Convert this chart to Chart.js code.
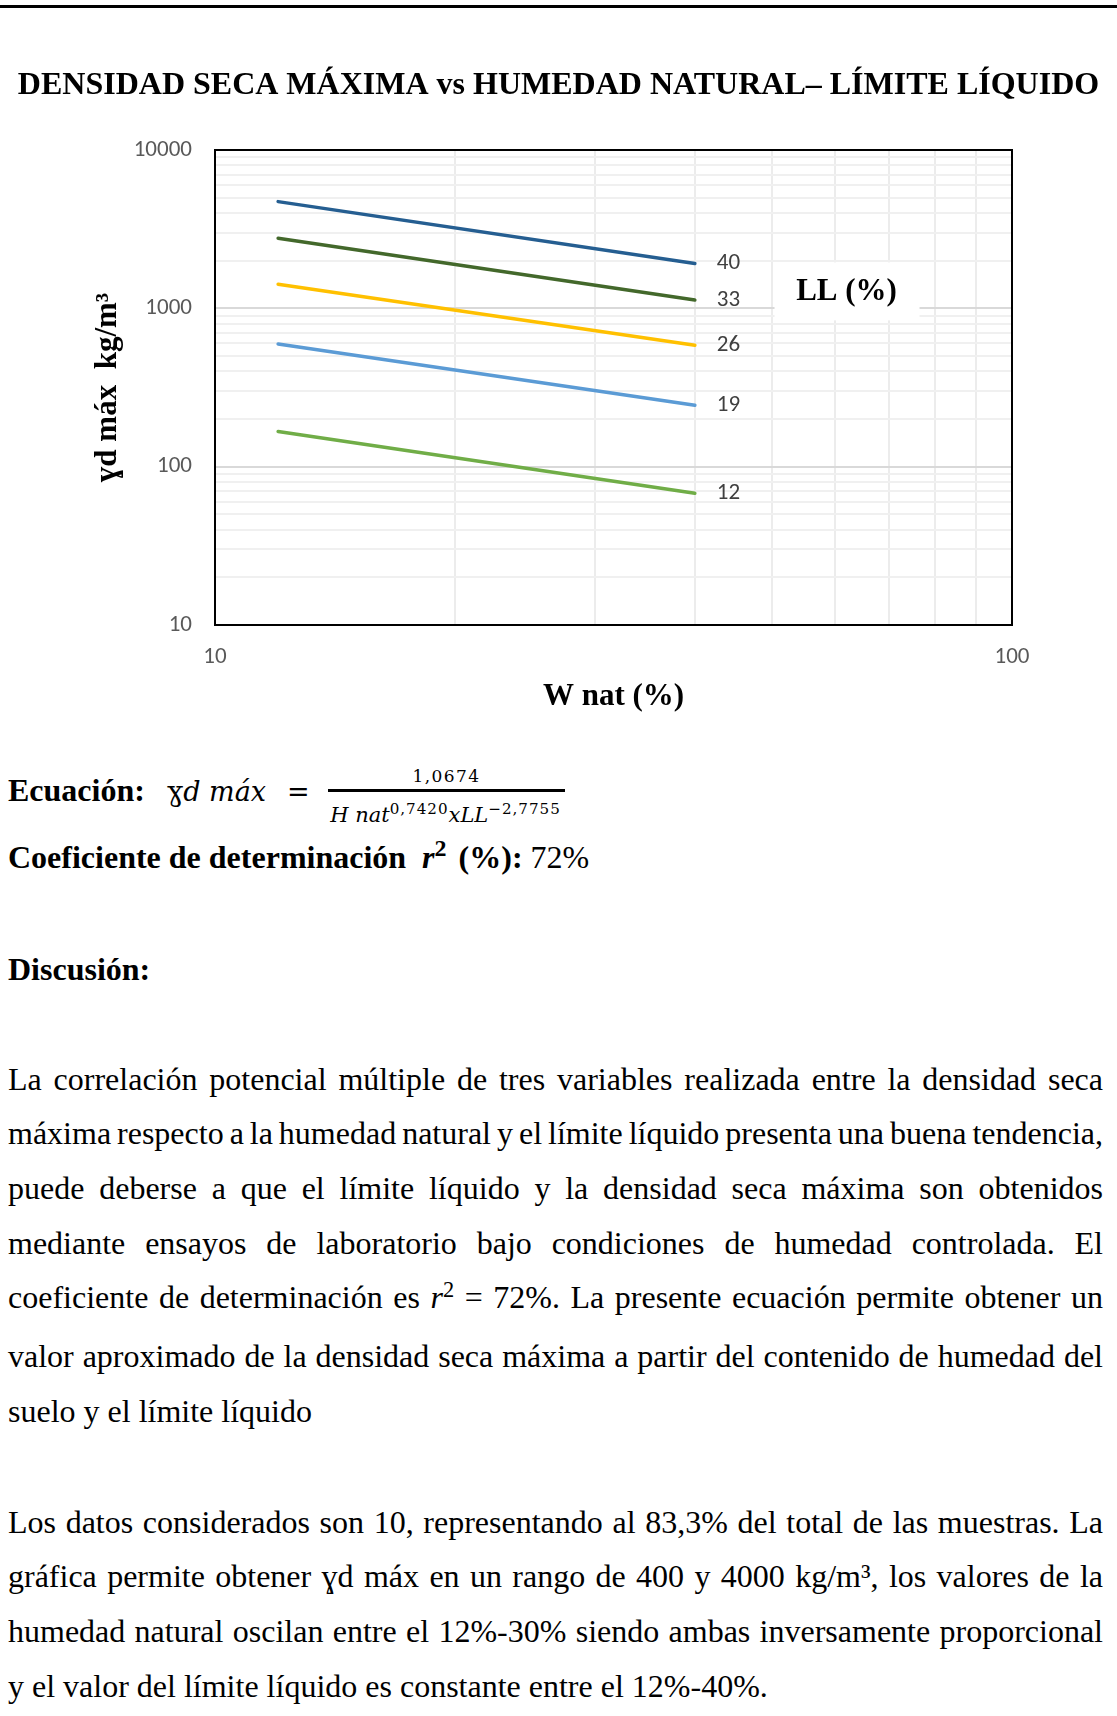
<!DOCTYPE html>
<html lang="es">
<head>
<meta charset="UTF-8">
<title>Densidad seca máxima vs humedad natural – límite líquido</title>
<script src="https://cdn.jsdelivr.net/npm/chart.js"></script>
<style>
  body { margin: 0; width: 1117px; height: 1716px; position: relative; overflow: hidden;
         background: #fff; color: #000; font-family: "Liberation Serif", "Times New Roman", serif; }
  .rule { position: absolute; left: 0; top: 5px; width: 1117px; height: 2.5px; background: #000; }
  #chart { position: absolute; left: 0; top: 0; }
  .abs { position: absolute; line-height: 1; white-space: nowrap; }
  .b { font-weight: bold; font-size: 32px; }
  .m { font-family: "DejaVu Serif", serif; }
  .up { position: relative; top: -0.5em; font-size: 0.7em; }
  .para { position: absolute; left: 8px; width: 1095px; font-size: 32px; line-height: 54.7px; }
  .para div { text-align: justify; text-align-last: justify; white-space: nowrap; }
  .para div.last { text-align-last: left; }
  .tight { word-spacing: -3px; }
</style>
</head>
<body>
<div class="rule"></div>
<canvas id="chart" width="1117" height="720" style="width:1117px;height:720px"></canvas>

<!-- ecuación -->
<div class="abs b" style="left:8px; top:774px">Ecuación:</div>
<div class="abs m" style="left:167px; top:778px; font-size:27px">ɣ<i>d máx</i></div>
<div class="abs m" style="left:287px; top:778px; font-size:27px">=</div>
<div class="abs m" style="left:328px; top:768px; width:237px; text-align:center; font-size:17px; letter-spacing:1.4px">1,0674</div>
<div class="abs" style="left:328px; top:789px; width:237px; height:2.5px; background:#000"></div>
<div class="abs m" style="left:327px; top:805px; width:237px; text-align:center; font-size:21px"><i>H nat</i><span class="up" style="font-size:0.72em; letter-spacing:1px">0,7420</span><i>xLL</i><span class="up" style="font-size:0.72em; letter-spacing:1px">−2,7755</span></div>

<div class="abs b" style="left:8px; top:841px">Coeficiente de determinación&nbsp;&nbsp;<i>r</i><span class="up" style="font-size:0.75em; margin-right:4px">2</span> (%): <span style="font-weight:normal">72%</span></div>

<div class="abs b" style="left:8px; top:953px">Discusión:</div>

<div class="para" style="top:1051.6px">
  <div>La correlación potencial múltiple de tres variables realizada entre la densidad seca</div>
  <div class="tight">máxima respecto a la humedad natural y el límite líquido presenta una buena tendencia,</div>
  <div>puede deberse a que el límite líquido y la densidad seca máxima son obtenidos</div>
  <div>mediante ensayos de laboratorio bajo condiciones de humedad controlada. El</div>
  <div>coeficiente de determinación es <i>r</i><span class="up">2</span> = 72%. La presente ecuación permite obtener un</div>
  <div>valor aproximado de la densidad seca máxima a partir del contenido de humedad del</div>
  <div class="last">suelo y el límite líquido</div>
</div>

<div class="para" style="top:1494.6px">
  <div>Los datos considerados son 10, representando al 83,3% del total de las muestras. La</div>
  <div>gráfica permite obtener ɣd máx en un rango de 400 y 4000 kg/m³, los valores de la</div>
  <div>humedad natural oscilan entre el 12%-30% siendo ambas inversamente proporcional</div>
  <div class="last">y el valor del límite líquido es constante entre el 12%-40%.</div>
</div>

<script>
// humedad natural (%) at the two ends of each line
const wNat = [12, 40];
// límite líquido of each line
const llSeries = ['40', '33', '26', '19', '12'];
// densidad seca máxima (kg/m3)
const yd40 = [4720, 1920];
const yd33 = [2770, 1130];
const yd26 = [1420, 585];
const yd19 = [595, 244];
const yd12 = [167, 68];

const xGrid = [10, 20, 30, 40, 50, 60, 70, 80, 90, 100];
const xTickLabels = [10, 100];
const yGrid = [10, 20, 30, 40, 50, 60, 70, 80, 90,
               100, 200, 300, 400, 500, 600, 700, 800, 900,
               1000, 2000, 3000, 4000, 5000, 6000, 7000, 8000, 9000, 10000];
const yTickLabels = [10, 100, 1000, 10000];

const lineColors = ['#255E91', '#43682B', '#FFC000', '#5B9BD5', '#70AD47'];
const serif = '"Liberation Serif", "Times New Roman", serif';
const sans = 'Carlito, Calibri, Lato, sans-serif';

const ydSeries = [yd40, yd33, yd26, yd19, yd12];
const datasets = ydSeries.map((vals, i) => ({
    label: llSeries[i],
    data: wNat.map((w, j) => ({ x: w, y: vals[j] })),
    borderColor: lineColors[i],
    borderWidth: 3.5,
    borderCapStyle: 'round',
    pointRadius: 0,
    showLine: true,
    fill: false
}));

// white box with "LL (%)", anchored in data units
const llBoxAt = { x: 62, y: 1280 };

const tagsPlugin = {
    id: 'tags',
    beforeDatasetsDraw(chart) {
        const c = chart.ctx;
        const cx = chart.scales.x.getPixelForValue(llBoxAt.x);
        const cy = chart.scales.y.getPixelForValue(llBoxAt.y);
        c.save();
        c.fillStyle = '#fff';
        c.fillRect(cx - 72, cy - 29, 145, 58);
        c.fillStyle = '#000';
        c.font = 'bold 31px ' + serif;
        c.textAlign = 'center';
        c.textBaseline = 'middle';
        c.fillText('LL (%)', cx, cy + 1);
        c.restore();
    },
    afterDatasetsDraw(chart) {
        const c = chart.ctx;
        c.save();
        c.fillStyle = '#404040';
        c.font = '23px ' + sans;
        c.textAlign = 'left';
        c.textBaseline = 'middle';
        chart.data.datasets.forEach((ds, i) => {
            const pts = chart.getDatasetMeta(i).data;
            const last = pts[pts.length - 1];
            c.fillText(ds.label, last.x + 22, last.y);
        });
        c.restore();
    },
    afterDraw(chart) {
        const a = chart.chartArea;
        const c = chart.ctx;
        c.save();
        c.strokeStyle = '#000';
        c.lineWidth = 2;
        c.strokeRect(a.left, a.top, a.right - a.left, a.bottom - a.top);
        c.restore();
    }
};

new Chart(document.getElementById('chart'), {
    type: 'scatter',
    data: { datasets: datasets },
    options: {
        responsive: false,
        animation: false,
        layout: { padding: 0 },
        plugins: {
            legend: { display: false },
            tooltip: { enabled: false },
            title: {
                display: true,
                text: 'DENSIDAD SECA MÁXIMA vs HUMEDAD NATURAL– LÍMITE LÍQUIDO',
                color: '#000',
                font: { family: serif, size: 32, weight: 'bold', lineHeight: 1.2 },
                padding: { top: 67, bottom: 44.6 }
            }
        },
        scales: {
            x: {
                type: 'logarithmic',
                min: 10,
                max: 100,
                afterBuildTicks: (s) => { s.ticks = xGrid.map(v => ({ value: v, major: xTickLabels.includes(v) })); },
                afterFit: (s) => { s.height = 95; },
                ticks: {
                    autoSkip: false, maxRotation: 0, minRotation: 0, padding: 18,
                    color: '#595959', font: { family: sans, size: 23 },
                    callback: (v) => xTickLabels.includes(v) ? String(v) : ''
                },
                grid: { color: '#ececec', lineWidth: 2, drawTicks: false },
                border: { display: false },
                title: {
                    display: true, text: 'W nat (%)', color: '#000',
                    font: { family: serif, size: 31, weight: 'bold', lineHeight: 1.2 },
                    padding: { top: 0, bottom: 4.4 }
                }
            },
            y: {
                type: 'logarithmic',
                min: 10,
                max: 10000,
                afterBuildTicks: (s) => { s.ticks = yGrid.map(v => ({ value: v, major: yTickLabels.includes(v) })); },
                afterFit: (s) => { s.width = 215; },
                ticks: {
                    autoSkip: false, padding: 23,
                    color: '#595959', font: { family: sans, size: 23 },
                    callback: (v) => yTickLabels.includes(v) ? String(v) : ''
                },
                grid: {
                    color: (c) => (c.tick && c.tick.major) ? '#d9d9d9' : '#f0f0f0',
                    lineWidth: 2, drawTicks: false
                },
                border: { display: false },
                title: {
                    display: true, text: 'ɣd máx  kg/m³', color: '#000',
                    font: { family: serif, size: 31, weight: 'bold', lineHeight: 1.2 },
                    padding: { top: 89.4, bottom: 0 }
                }
            },
            // empty right-hand axis, only keeps the plot's right edge in place
            y2: {
                type: 'linear',
                position: 'right',
                ticks: { display: false },
                grid: { display: false },
                border: { display: false },
                afterFit: (s) => { s.width = 105; }
            }
        }
    },
    plugins: [tagsPlugin]
});
</script>
</body>
</html>
